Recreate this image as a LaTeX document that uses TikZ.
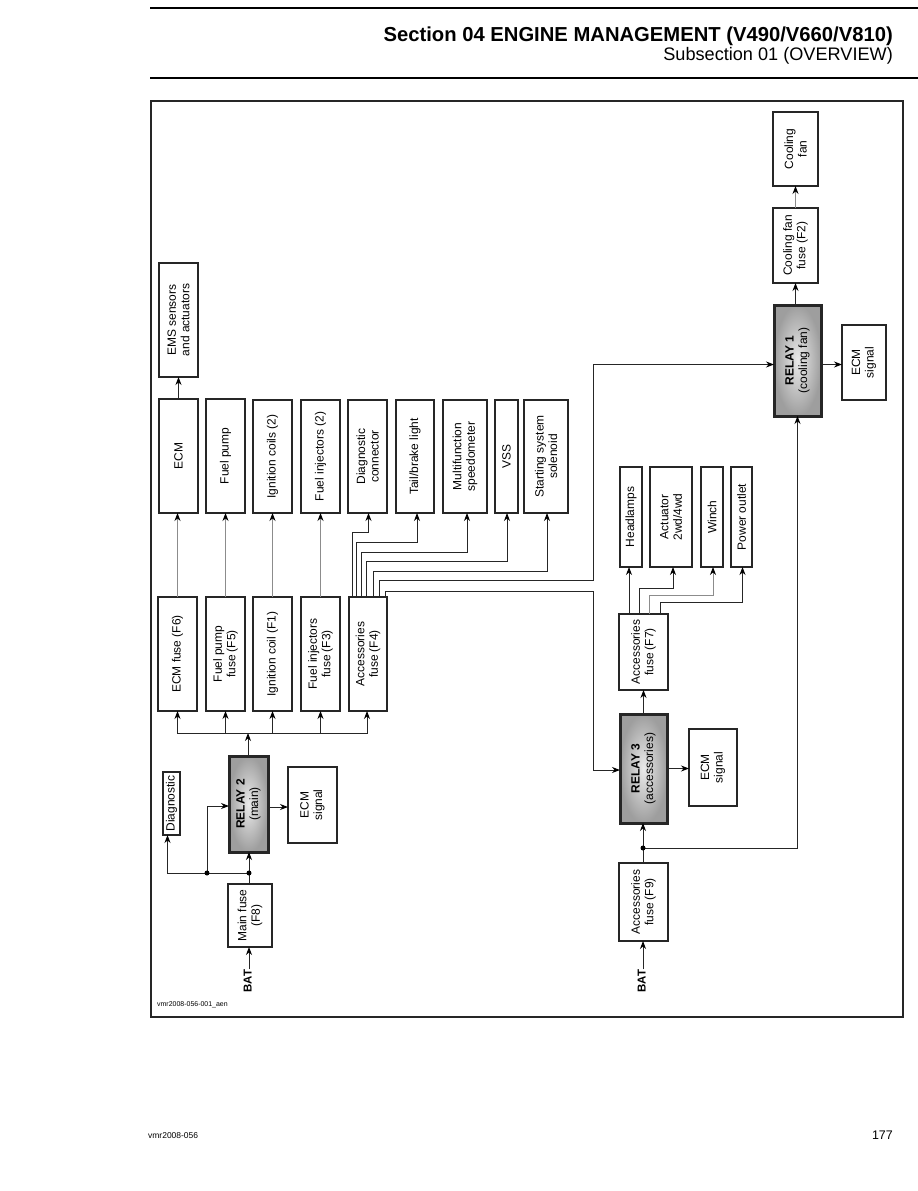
\documentclass[tikz,border=0pt]{standalone}
\usepackage{fontspec}
\setmainfont{Liberation Sans}
\usetikzlibrary{arrows.meta}
\tikzset{
  box/.style={draw=black!85, line width=1.2bp, fill=white, inner sep=0pt, outer sep=0pt},
  relay/.style={draw=black!85, line width=3bp, inner color=black!8, outer color=black!38, inner sep=0pt, outer sep=0pt},
  lbl/.style={rotate=90, align=center, font=\fontsize{12}{13.5}\selectfont, inner sep=0pt},
  batf/.style={rotate=90, font=\bfseries\fontsize{11.5}{12}\selectfont, inner sep=0pt},
  tip/.style={-{Stealth[length=8bp,width=6bp,color=black]}},
  arr/.style={draw=black!85, line width=0.9bp, tip},
  garr/.style={draw=black!45, line width=0.9bp, tip},
  ln/.style={draw=black!85, line width=0.9bp},
  dot/.style={circle, fill=black, inner sep=0pt, minimum size=5bp},
}
\newcommand\bx[7][box]{%
  \node[#1, minimum width={(#5-#3)*1bp}, minimum height={(#6-#4)*1bp}] (#2) at ({(#3+#5)/2},{(#4+#6)/2}) {};
  \node[lbl] (#2-t) at (#2.center) {#7};}
\begin{document}
\begin{tikzpicture}[x=1bp,y=-1bp]
\useasboundingbox (0,0) rectangle (918,1191);
% header
\draw[line width=2.2bp] (150,8) -- (918,8);
\draw[line width=2.2bp] (150,78) -- (918,78);
\node[anchor=base east, inner sep=0pt, font=\bfseries\fontsize{20.3}{21}\selectfont] (sec) at (893,41) {Section 04 ENGINE MANAGEMENT (V490/V660/V810)};
\node[anchor=base east, inner sep=0pt, font=\fontsize{18.2}{19}\selectfont] (subsec) at (893,60) {Subsection 01 (OVERVIEW)};
% frame
\draw[line width=1.2bp, black!85] (151,101) rectangle (903,1017);
\node[anchor=base west, inner sep=0pt, font=\fontsize{7}{8}\selectfont] (code) at (157,1006) {vmr2008-056-001\_aen};
% footer
\node[anchor=base west, inner sep=0pt, font=\fontsize{8.5}{9}\selectfont] (foot) at (148,1138) {vmr2008-056};
\node[anchor=base east, inner sep=0pt, font=\fontsize{12.5}{13}\selectfont] (page) at (893,1139) {177};
% load boxes
\bx{ems}{159}{263}{198}{377}{EMS sensors\\and actuators}
\bx{ecm}{159}{399}{198}{513}{ECM}
\bx{fp}{206}{399}{245}{513}{Fuel pump}
\bx{ic}{253}{400}{292}{513}{Ignition coils (2)}
\bx{fi}{301}{400}{340}{513}{Fuel injectors (2)}
\bx{dc}{348}{400}{387}{513}{Diagnostic\\connector}
\bx{tb}{396}{400}{434}{513}{Tail/brake light}
\bx{ms}{443}{400}{487}{513}{Multifunction\\speedometer}
\bx{vss}{495}{400}{518}{513}{VSS}
\bx{ss}{524}{400}{568}{513}{Starting system\\solenoid}
% fuses
\bx{ecmf}{158}{597}{197}{711}{ECM fuse (F6)}
\bx{fpf}{206}{597}{245}{711}{Fuel pump\\fuse (F5)}
\bx{icf}{253}{597}{292}{711}{Ignition coil (F1)}
\bx{fif}{301}{597}{340}{711}{Fuel injectors\\fuse (F3)}
\bx{f4}{349}{597}{387}{711}{Accessories\\fuse (F4)}
% relay 2 group
\bx{diag}{163}{772}{180}{835}{Diagnostic}
\bx[relay]{r2}{229}{756}{268}{852}{\textbf{RELAY 2}\\(main)}
\bx{ecm2}{288}{767}{337}{843}{ECM\\signal}
\bx{mf}{228}{884}{272}{947}{Main fuse\\(F8)}
\node[batf, anchor=mid] (bat1) at (249,981) {BAT};
% relay 3 group
\bx[relay]{r3}{620}{714}{667}{823}{\textbf{RELAY 3}\\(accessories)}
\bx{ecm3}{689}{729}{737}{806}{ECM\\signal}
\bx{f9}{619}{863}{668}{941}{Accessories\\fuse (F9)}
\node[batf, anchor=mid] (bat2) at (643,981) {BAT};
\bx{f7}{619}{614}{668}{690}{Accessories\\fuse (F7)}
\bx{hl}{620}{467}{642}{567}{Headlamps}
\bx{act}{650}{467}{692}{567}{Actuator\\2wd/4wd}
\bx{win}{701}{467}{723}{567}{Winch}
\bx{po}{731}{467}{752}{567}{Power outlet}
% relay 1 group
\bx[relay]{r1}{774}{305}{821}{416}{\textbf{RELAY 1}\\(cooling fan)}
\bx{ecm1}{842}{325}{886}{400}{ECM\\signal}
\bx{f2}{773}{208}{818}{283}{Cooling fan\\fuse (F2)}
\bx{fan}{773}{112}{818}{186}{Cooling\\fan}
% connectors: top area
\draw[arr] (ecm.north) -- (ems.south);
\draw[garr] (ecmf.north) -- (ecmf.north |- ecm.south);
\draw[garr] (fpf.north) -- (fpf.north |- fp.south);
\draw[garr] (icf.north) -- (icf.north |- ic.south);
\draw[garr] (fif.north) -- (fif.north |- fi.south);
% bus from relay 2
\coordinate (bus) at (248,733);
\draw[arr] (bus |- r2.north) -- (bus);
\draw[arr] (bus) -| (ecmf.south);
\draw[arr] (bus) -| (fpf.south);
\draw[arr] (bus) -| (icf.south);
\draw[arr] (bus) -| (fif.south);
\draw[arr] (bus) -| ([xshift=-1bp]f4.south);
% accessories fuse F4 bundle
\draw[arr] ([xshift=3bp]f4.north west) -- ++(0,-65) -| ([xshift=1bp]dc.south);
\draw[arr] ([xshift=7bp]f4.north west) -- ++(0,-55) -| ([xshift=2bp]tb.south);
\draw[arr] ([xshift=12bp]f4.north west) -- ++(0,-45) -| ([xshift=2bp]ms.south);
\draw[arr] ([xshift=17bp]f4.north west) -- ++(0,-36) -| ([xshift=0.5bp]vss.south);
\draw[arr] ([xshift=24bp]f4.north west) -- ++(0,-26) -| ([xshift=1bp]ss.south);
\coordinate (k1) at (593,580);
\coordinate (k3) at (593,591);
\draw[arr] ([xshift=30bp]f4.north west) -- ++(0,-17) -- (k1) |- ([yshift=-4bp]r1.west);
\draw[arr] ([xshift=36bp]f4.north west) -- ++(0,-6) -- (k3) |- ([yshift=-1.5bp]r3.west);
% relay 2 inputs
\coordinate (j2) at (249,873);
\coordinate (j2b) at (207,873);
\draw[ln] (j2 |- mf.north) -- (j2);
\draw[arr] (j2) -- (j2 |- r2.south);
\draw[arr] (j2) -| ([xshift=-4bp]diag.south);
\draw[arr] (j2b) |- ([yshift=-2bp]r2.west);
\node[dot] (d1) at (j2) {};
\node[dot] (d2) at (j2b) {};
\draw[arr] ([yshift=-3bp]r2.east) -- ([yshift=-3bp]r2.east -| ecm2.west);
\draw[arr] (bat1.mid east) -- (bat1.mid east |- mf.south);
% relay 3
\coordinate (j3) at (643,848);
\draw[ln] (j3 |- f9.north) -- (j3);
\draw[arr] (j3) -- (j3 |- r3.south);
\draw[arr] (j3) -| (r1.south);
\node[dot] (d3) at (j3) {};
\draw[arr] (bat2.mid east) -- (bat2.mid east |- f9.south);
\draw[arr] (r3.east) -- (r3.east -| ecm3.west);
\draw[arr] (r3.north) -- (f7.south);
% F7 outputs
\draw[arr] ([xshift=10bp]f7.north west) -- ([xshift=10bp]f7.north west |- hl.south);
\draw[arr] ([xshift=20bp]f7.north west) -- ++(0,-26) -| ([xshift=2bp]act.south);
\draw[garr] ([xshift=30bp]f7.north west) -- ++(0,-19) -| ([xshift=1bp]win.south);
\draw[arr] ([xshift=41bp]f7.north west) -- ++(0,-12) -| ([xshift=1bp]po.south);
% relay 1
\draw[arr] (f2.south |- r1.north) -- (f2.south);
\draw[garr] (f2.north) -- (fan.south);
\draw[arr] ([yshift=-4bp]r1.east) -- ([yshift=-4bp]r1.east -| ecm1.west);
\end{tikzpicture}
\end{document}
